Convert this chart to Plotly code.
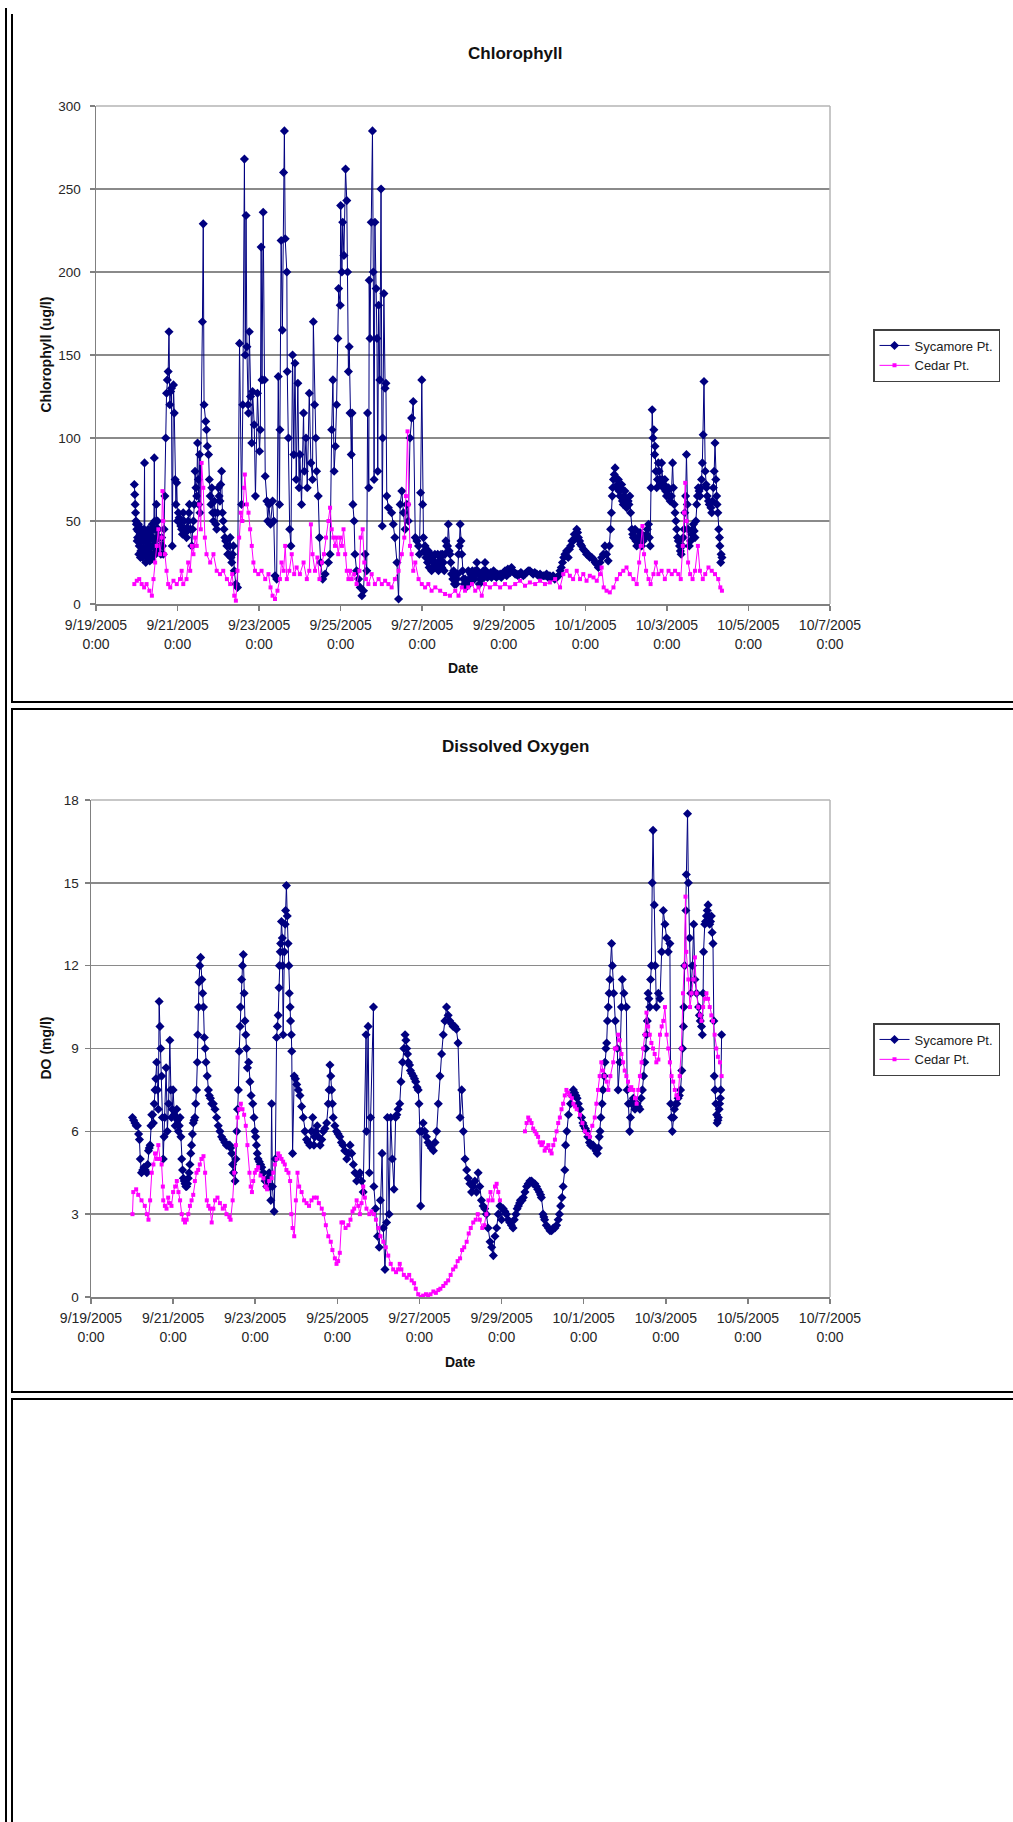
import pandas as pd
import plotly.graph_objects as go

W, H = 1013, 1822
FONT = "Liberation Sans, Arial, sans-serif"

# ---------------- data (day offset from 9/19/2005 0:00, value) ----------------
sycamore_chl = [
    (0.94, 72), (0.95, 66), (0.96, 60), (0.98, 50), (1.00, 45), (1.02, 40), (1.04, 48), (1.06, 35),
    (1.08, 42), (1.10, 32), (1.12, 45), (1.14, 28), (1.16, 38), (1.19, 85), (1.20, 30), (1.22, 25),
    (1.24, 42), (1.26, 28), (1.28, 45), (1.30, 33), (1.32, 26), (1.34, 40), (1.36, 30), (1.38, 48),
    (1.40, 35), (1.43, 88), (1.44, 50), (1.46, 30), (1.48, 60), (1.50, 40), (1.53, 45), (1.57, 35),
    (1.61, 40), (1.65, 30), (1.69, 65), (1.71, 100), (1.73, 127), (1.75, 135), (1.77, 140), (1.79, 164),
    (1.81, 120), (1.83, 128), (1.85, 130), (1.87, 35), (1.90, 132), (1.92, 115), (1.94, 75), (1.98, 73),
    (2.02, 55), (2.06, 50), (2.10, 45), (2.14, 55), (2.18, 45), (2.22, 40), (2.26, 50), (2.29, 60),
    (2.32, 45), (2.35, 35), (2.39, 50), (2.43, 80), (2.47, 65), (2.49, 97), (2.52, 60), (2.55, 55),
    (2.61, 170), (2.63, 229), (2.65, 120), (2.69, 110), (2.71, 105), (2.76, 90), (2.80, 65), (2.84, 70),
    (2.88, 50), (2.92, 55), (2.96, 45), (3.00, 70), (3.04, 62), (3.08, 80), (3.12, 50), (3.16, 40),
    (3.21, 35), (3.25, 30), (3.29, 40), (3.33, 25), (3.37, 35), (3.39, 20), (3.43, 12), (3.47, 10),
    (3.52, 157), (3.57, 60), (3.60, 120), (3.64, 268), (3.66, 150), (3.68, 234), (3.70, 155), (3.73, 120),
    (3.74, 115), (3.76, 164), (3.79, 125), (3.82, 97), (3.84, 128), (3.88, 108), (3.91, 65), (3.96, 127),
    (4.01, 92), (4.03, 105), (4.05, 215), (4.07, 135), (4.10, 236), (4.13, 135), (4.15, 77), (4.19, 62),
    (4.21, 50), (4.24, 60), (4.28, 48), (4.33, 62), (4.36, 50), (4.39, 17), (4.43, 15), (4.47, 137),
    (4.50, 60), (4.51, 105), (4.54, 219), (4.57, 165), (4.60, 260), (4.62, 285), (4.64, 220), (4.68, 200),
    (4.69, 140), (4.72, 100), (4.75, 45), (4.78, 35), (4.82, 150), (4.85, 90), (4.88, 145), (4.91, 75),
    (4.95, 133), (4.98, 70), (5.00, 90), (5.04, 60), (5.09, 115), (5.11, 80), (5.15, 100), (5.18, 70),
    (5.23, 127), (5.27, 85), (5.31, 75), (5.33, 170), (5.36, 120), (5.39, 100), (5.41, 80), (5.45, 65),
    (5.48, 40), (5.51, 25), (5.56, 15), (5.62, 18), (5.70, 25), (5.74, 30), (5.78, 105), (5.81, 135),
    (5.84, 80), (5.87, 95), (5.90, 120), (5.93, 160), (5.95, 190), (5.99, 180), (6.00, 240), (6.03, 200),
    (6.05, 230), (6.08, 210), (6.12, 262), (6.15, 243), (6.17, 200), (6.19, 140), (6.21, 155), (6.23, 115),
    (6.26, 90), (6.28, 115), (6.30, 60), (6.33, 50), (6.35, 30), (6.39, 20), (6.44, 15), (6.48, 10),
    (6.52, 5), (6.56, 8), (6.60, 30), (6.64, 20), (6.66, 115), (6.69, 70), (6.70, 195), (6.72, 160),
    (6.75, 230), (6.78, 285), (6.80, 200), (6.82, 75), (6.84, 230), (6.87, 190), (6.89, 160), (6.91, 80),
    (6.93, 180), (6.96, 135), (6.99, 250), (7.02, 47), (7.03, 100), (7.06, 187), (7.09, 130), (7.11, 133),
    (7.13, 65), (7.17, 58), (7.25, 55), (7.29, 48), (7.33, 40), (7.38, 25), (7.42, 3), (7.46, 60),
    (7.50, 68), (7.54, 55), (7.58, 45), (7.62, 60), (7.66, 50), (7.70, 100), (7.74, 112), (7.78, 122),
    (7.83, 40), (7.91, 35), (7.96, 67), (7.99, 135), (8.01, 60), (8.07, 35), (8.11, 30), (8.19, 28),
    (8.27, 25), (8.31, 30), (8.36, 22), (8.44, 28), (8.52, 25), (8.60, 35), (8.64, 48), (8.68, 30),
    (8.77, 20), (8.85, 15), (8.93, 48), (8.97, 30), (9.01, 15), (9.09, 12), (9.17, 15), (9.26, 18),
    (9.34, 25), (9.42, 15), (9.50, 20), (9.54, 25), (9.58, 18), (9.75, 20), (9.91, 18), (10.07, 17),
    (10.19, 22), (10.32, 18), (10.48, 17), (10.64, 20), (10.81, 18), (10.97, 17), (11.13, 17), (11.30, 16),
    (11.38, 20), (11.44, 25), (11.50, 30), (11.58, 28), (11.64, 35), (11.70, 38), (11.79, 45), (11.83, 40),
    (11.91, 35), (11.99, 32), (12.07, 30), (12.16, 28), (12.24, 25), (12.32, 22), (12.40, 28), (12.48, 35),
    (12.56, 26), (12.62, 45), (12.66, 65), (12.69, 75), (12.73, 82), (12.77, 70), (12.81, 75), (12.85, 65),
    (12.89, 72), (12.93, 60), (12.97, 68), (13.01, 58), (13.05, 62), (13.09, 65), (13.14, 45), (13.18, 40),
    (13.22, 45), (13.26, 35), (13.34, 43), (13.38, 35), (13.46, 40), (13.55, 48), (13.59, 35), (13.64, 117),
    (13.68, 105), (13.71, 95), (13.75, 70), (13.79, 85), (13.83, 75), (13.87, 85), (13.91, 70), (13.95, 75),
    (13.99, 65), (14.04, 70), (14.08, 62), (14.14, 85), (14.18, 60), (14.22, 50), (14.26, 40), (14.31, 35),
    (14.35, 30), (14.40, 40), (14.44, 55), (14.48, 90), (14.52, 45), (14.55, 35), (14.61, 42), (14.65, 48),
    (14.69, 40), (14.73, 60), (14.77, 70), (14.81, 65), (14.85, 75), (14.89, 102), (14.91, 134), (14.94, 80),
    (14.97, 70), (15.02, 62), (15.06, 60), (15.10, 55), (15.14, 70), (15.18, 97), (15.20, 75), (15.23, 60),
    (15.27, 45), (15.30, 35), (15.32, 25), (15.35, 28),
]

# further readings from the dense bands of the Sycamore Pt. chlorophyll trace
sycamore_chl_band = [
    (0.97, 55), (0.99, 48), (1.01, 38), (1.03, 44), (1.05, 30), (1.07, 46), (1.09, 28), (1.11, 38),
    (1.13, 33), (1.15, 42), (1.17, 30), (1.18, 45), (1.21, 40), (1.23, 32), (1.25, 35), (1.27, 38),
    (1.29, 27), (1.31, 42), (1.33, 35), (1.35, 45), (1.37, 27), (1.39, 40), (1.41, 30), (1.42, 45),
    (1.45, 38), (1.47, 45), (1.49, 32), (1.51, 50), (1.55, 40), (1.59, 30), (1.63, 35), (1.67, 45),
    (1.96, 60), (2.00, 50), (2.04, 52), (2.08, 47), (2.12, 42), (2.16, 50), (2.20, 43), (2.24, 46),
    (2.28, 55), (2.37, 45), (2.41, 60), (2.45, 70), (2.51, 75), (2.54, 90),
    (2.73, 95), (2.78, 75), (2.82, 60), (2.86, 55), (2.90, 62), (2.94, 48), (2.98, 55), (3.02, 65),
    (3.06, 72), (3.10, 55), (3.14, 45), (3.18, 38), (3.23, 30), (3.27, 35), (3.31, 28), (3.35, 30),
    (7.87, 38), (7.93, 30), (8.03, 40), (8.05, 32), (8.09, 28), (8.13, 25), (8.15, 32), (8.17, 22),
    (8.21, 30), (8.23, 20), (8.25, 28), (8.29, 22), (8.33, 25), (8.38, 30), (8.40, 20), (8.42, 25),
    (8.46, 30), (8.48, 22), (8.50, 30), (8.54, 20), (8.56, 30), (8.58, 38), (8.62, 35), (8.66, 32),
    (8.70, 25), (8.72, 18), (8.75, 15), (8.79, 12), (8.81, 18), (8.83, 12), (8.87, 18), (8.89, 30),
    (8.91, 35), (8.95, 38), (8.99, 20), (9.03, 12), (9.05, 15), (9.07, 10), (9.11, 14), (9.13, 20),
    (9.15, 12), (9.19, 18), (9.21, 15), (9.23, 20), (9.28, 15), (9.30, 20), (9.32, 18), (9.36, 20),
    (9.38, 18), (9.40, 12), (9.44, 18), (9.46, 15), (9.48, 18), (9.52, 16), (9.56, 20), (9.60, 16),
    (9.62, 18), (9.65, 17), (9.68, 19), (9.70, 16), (9.72, 18), (9.78, 17), (9.82, 16), (9.85, 18),
    (9.88, 17), (9.94, 16), (9.97, 18), (10.00, 19), (10.03, 20), (10.10, 21), (10.13, 20), (10.16, 19),
    (10.22, 20), (10.25, 19), (10.28, 18), (10.35, 17), (10.38, 18), (10.42, 19), (10.45, 18), (10.52, 18),
    (10.56, 19), (10.60, 20), (10.68, 19), (10.72, 18), (10.76, 19), (10.85, 17), (10.89, 18), (10.93, 17),
    (11.01, 17), (11.05, 18), (11.09, 16), (11.17, 16), (11.21, 17), (11.25, 15), (11.34, 17), (11.41, 22),
    (11.47, 28), (11.54, 32), (11.61, 33), (11.67, 38), (11.73, 42), (11.76, 40), (11.81, 43), (11.86, 38),
    (11.88, 36), (11.95, 33), (12.03, 30), (12.11, 28), (12.20, 27), (12.28, 24), (12.36, 25), (12.44, 30),
    (12.52, 30), (12.59, 35),
    (12.64, 55), (12.67, 70), (12.71, 78), (12.75, 76), (12.79, 72), (12.83, 68), (12.87, 70), (12.91, 62),
    (12.95, 65), (12.99, 60), (13.03, 62), (13.07, 60), (13.11, 55), (13.16, 42), (13.20, 44), (13.24, 38),
    (13.29, 40), (13.31, 38), (13.36, 40), (13.42, 38), (13.50, 42), (13.52, 45), (13.57, 40), (13.61, 70),
    (13.66, 100), (13.70, 90), (13.73, 80), (13.77, 75), (13.81, 80), (13.85, 72), (13.89, 75), (13.93, 72),
    (13.97, 68), (14.01, 68), (14.06, 65), (14.11, 65), (14.16, 70), (14.20, 55),
    (14.24, 45), (14.28, 38), (14.33, 32), (14.38, 35), (14.42, 45), (14.46, 65), (14.50, 60), (14.58, 38),
    (14.63, 45), (14.67, 44), (14.71, 50), (14.75, 65), (14.79, 68), (14.83, 70), (14.87, 85), (14.96, 72),
    (14.99, 65), (15.04, 60), (15.08, 58), (15.12, 62), (15.16, 80), (15.22, 65), (15.25, 55), (15.29, 40),
    (15.33, 30),
]

cedar_chl = [
    (0.94, 12), (1.00, 14), (1.06, 15), (1.12, 12), (1.18, 10), (1.24, 12), (1.31, 8), (1.37, 5),
    (1.41, 15), (1.45, 25), (1.49, 35), (1.53, 45), (1.57, 30), (1.61, 40), (1.63, 68), (1.65, 50),
    (1.69, 30), (1.73, 20), (1.77, 12), (1.82, 10), (1.90, 14), (1.98, 12), (2.06, 15), (2.10, 20),
    (2.14, 12), (2.22, 15), (2.26, 25), (2.31, 20), (2.35, 35), (2.39, 30), (2.43, 40), (2.47, 35),
    (2.53, 60), (2.57, 45), (2.59, 85), (2.63, 70), (2.67, 40), (2.71, 30), (2.80, 25), (2.88, 30),
    (2.96, 20), (3.04, 18), (3.12, 20), (3.21, 15), (3.29, 12), (3.34, 18), (3.39, 5), (3.43, 2),
    (3.47, 20), (3.51, 40), (3.55, 55), (3.59, 50), (3.63, 70), (3.65, 78), (3.70, 60), (3.74, 55),
    (3.78, 45), (3.82, 35), (3.86, 25), (3.90, 20), (3.98, 18), (4.06, 20), (4.15, 15), (4.23, 18),
    (4.28, 10), (4.33, 5), (4.39, 3), (4.45, 8), (4.51, 15), (4.55, 25), (4.60, 20), (4.64, 35),
    (4.68, 15), (4.74, 20), (4.80, 30), (4.86, 18), (4.92, 22), (5.00, 18), (5.09, 25), (5.17, 15),
    (5.23, 20), (5.27, 48), (5.31, 30), (5.37, 20), (5.43, 28), (5.48, 15), (5.54, 25), (5.59, 30),
    (5.64, 40), (5.70, 50), (5.74, 58), (5.78, 45), (5.82, 40), (5.86, 35), (5.90, 40), (5.94, 30),
    (5.99, 40), (6.03, 35), (6.07, 45), (6.11, 30), (6.15, 20), (6.19, 15), (6.23, 20), (6.27, 15),
    (6.33, 18), (6.39, 12), (6.46, 20), (6.49, 40), (6.54, 45), (6.58, 25), (6.62, 15), (6.68, 12),
    (6.76, 18), (6.84, 12), (6.93, 15), (7.01, 12), (7.09, 14), (7.17, 12), (7.25, 10), (7.33, 15),
    (7.42, 20), (7.50, 30), (7.56, 40), (7.60, 65), (7.64, 104), (7.67, 60), (7.70, 35), (7.74, 30),
    (7.78, 20), (7.83, 25), (7.91, 15), (7.99, 12), (8.07, 10), (8.15, 12), (8.23, 8), (8.32, 10),
    (8.44, 8), (8.56, 6), (8.68, 5), (8.81, 8), (8.89, 5), (8.97, 10), (9.05, 8), (9.13, 10),
    (9.22, 12), (9.30, 8), (9.38, 10), (9.46, 5), (9.54, 12), (9.66, 10), (9.79, 12), (9.91, 10),
    (10.03, 12), (10.15, 10), (10.28, 12), (10.40, 14), (10.52, 11), (10.64, 13), (10.77, 12), (10.89, 14),
    (11.01, 12), (11.13, 13), (11.26, 15), (11.38, 10), (11.46, 18), (11.54, 20), (11.62, 17), (11.70, 15),
    (11.79, 20), (11.87, 15), (11.95, 18), (12.03, 14), (12.11, 17), (12.20, 16), (12.28, 14), (12.36, 18),
    (12.40, 22), (12.45, 10), (12.52, 8), (12.60, 7), (12.69, 10), (12.77, 15), (12.85, 18), (12.93, 20),
    (13.01, 22), (13.09, 18), (13.18, 15), (13.26, 12), (13.32, 25), (13.36, 35), (13.40, 47), (13.44, 30),
    (13.49, 20), (13.55, 15), (13.60, 12), (13.67, 18), (13.73, 25), (13.79, 18), (13.87, 20), (13.95, 15),
    (14.04, 20), (14.12, 18), (14.20, 20), (14.28, 18), (14.34, 15), (14.39, 35), (14.42, 55), (14.45, 73),
    (14.48, 50), (14.52, 25), (14.57, 18), (14.63, 15), (14.69, 20), (14.76, 35), (14.81, 20), (14.88, 15),
    (14.94, 18), (15.02, 22), (15.10, 20), (15.18, 18), (15.26, 15), (15.31, 10), (15.35, 8),
]

sycamore_do = [
    (1.01, 6.5), (1.07, 6.3), (1.13, 6.2), (1.18, 5.7), (1.23, 4.5), (1.29, 4.7), (1.36, 4.5), (1.40, 5.3),
    (1.44, 5.5), (1.48, 6.6), (1.52, 6.3), (1.56, 7.5), (1.60, 8.5), (1.64, 6.8), (1.66, 10.7), (1.68, 9.8),
    (1.70, 9.0), (1.74, 6.5), (1.76, 5.0), (1.80, 6.5), (1.83, 8.3), (1.86, 6.0), (1.89, 7.0), (1.92, 9.3),
    (1.96, 6.5), (2.00, 7.5), (2.05, 6.2), (2.09, 6.8), (2.13, 6.0), (2.17, 6.5), (2.21, 5.0), (2.25, 4.3),
    (2.29, 4.1), (2.33, 4.0), (2.37, 4.3), (2.41, 4.8), (2.45, 5.5), (2.49, 6.3), (2.53, 6.5), (2.57, 7.5),
    (2.60, 9.5), (2.63, 11.4), (2.67, 12.3), (2.70, 11.5), (2.74, 10.5), (2.76, 9.4), (2.80, 8.5), (2.86, 7.5),
    (2.91, 7.2), (2.98, 7.0), (3.06, 6.5), (3.14, 6.0), (3.22, 5.7), (3.30, 5.5), (3.38, 5.5), (3.43, 5.2),
    (3.47, 4.5), (3.51, 4.2), (3.55, 6.0), (3.59, 7.5), (3.61, 8.9), (3.64, 10.5), (3.69, 12.0), (3.71, 12.4),
    (3.73, 11.0), (3.77, 9.5), (3.81, 8.3), (3.84, 8.5), (3.87, 7.8), (3.94, 7.0), (3.99, 6.0), (4.03, 5.5),
    (4.07, 5.0), (4.13, 4.8), (4.20, 4.5), (4.28, 4.0), (4.34, 4.5), (4.38, 3.5), (4.40, 7.0), (4.42, 4.0),
    (4.46, 3.1), (4.49, 5.0), (4.52, 9.4), (4.56, 10.2), (4.59, 12.0), (4.62, 12.8), (4.64, 13.6), (4.67, 12.0),
    (4.68, 9.5), (4.71, 12.5), (4.74, 14.0), (4.76, 14.9), (4.80, 12.8), (4.83, 11.0), (4.86, 10.0), (4.89, 8.9),
    (4.91, 5.2), (4.95, 8.0), (5.01, 7.7), (5.09, 7.3), (5.17, 6.5), (5.25, 5.7), (5.33, 5.5), (5.40, 6.5),
    (5.45, 5.8), (5.51, 6.2), (5.58, 5.5), (5.66, 6.0), (5.74, 6.3), (5.78, 7.0), (5.82, 8.4), (5.86, 7.5),
    (5.90, 6.5), (5.98, 6.0), (6.06, 5.8), (6.14, 5.5), (6.23, 5.0), (6.31, 5.5), (6.39, 4.8), (6.47, 4.2),
    (6.55, 4.5), (6.63, 3.8), (6.70, 9.5), (6.71, 6.0), (6.75, 9.8), (6.78, 4.5), (6.81, 6.5), (6.88, 10.5),
    (6.89, 4.0), (6.93, 3.2), (6.98, 2.2), (7.02, 1.8), (7.05, 3.5), (7.09, 5.2), (7.12, 2.5), (7.16, 1.0),
    (7.20, 2.7), (7.22, 6.5), (7.26, 3.0), (7.30, 6.5), (7.34, 5.0), (7.38, 3.9), (7.42, 6.5), (7.48, 6.8),
    (7.52, 7.0), (7.59, 8.5), (7.65, 9.5), (7.69, 9.0), (7.73, 8.5), (7.78, 8.2), (7.85, 8.0), (7.91, 7.8),
    (7.97, 7.5), (8.01, 6.0), (8.03, 3.3), (8.06, 6.0), (8.09, 6.3), (8.17, 5.8), (8.25, 5.5), (8.34, 5.3),
    (8.42, 6.0), (8.50, 8.0), (8.58, 9.5), (8.66, 10.5), (8.74, 10.0), (8.82, 9.8), (8.90, 9.7), (8.94, 9.2),
    (8.99, 6.5), (9.03, 7.5), (9.07, 6.0), (9.11, 5.0), (9.19, 4.3), (9.31, 4.0), (9.43, 4.5), (9.51, 3.5),
    (9.63, 3.0), (9.72, 2.0), (9.80, 1.5), (9.88, 2.5), (9.96, 3.3), (10.00, 2.8), (10.04, 3.2), (10.12, 3.0),
    (10.20, 2.7), (10.28, 2.5), (10.35, 3.0), (10.41, 3.3), (10.46, 3.5), (10.53, 3.6), (10.61, 4.0), (10.69, 4.2),
    (10.77, 4.1), (10.85, 4.0), (10.92, 3.8), (10.97, 3.6), (11.01, 3.0), (11.05, 2.8), (11.14, 2.5), (11.22, 2.4),
    (11.30, 2.5), (11.38, 2.8), (11.44, 3.3), (11.50, 4.0), (11.54, 4.6), (11.56, 5.5), (11.59, 6.0), (11.63, 6.6),
    (11.68, 7.0), (11.75, 7.5), (11.81, 7.3), (11.87, 7.0), (11.95, 6.5), (12.00, 6.2), (12.07, 6.0), (12.14, 5.6),
    (12.19, 5.5), (12.27, 5.4), (12.33, 5.2), (12.38, 5.8), (12.42, 6.5), (12.47, 7.5), (12.52, 8.5), (12.56, 9.2),
    (12.60, 10.5), (12.64, 11.5), (12.68, 12.8), (12.70, 12.0), (12.73, 11.0), (12.77, 10.0), (12.82, 9.0), (12.84, 7.5),
    (12.88, 8.5), (12.92, 10.5), (12.94, 11.5), (12.98, 11.0), (13.04, 10.5), (13.06, 7.5), (13.09, 7.0), (13.12, 6.0),
    (13.17, 7.0), (13.21, 7.2), (13.25, 6.8), (13.30, 7.0), (13.37, 6.8), (13.43, 7.5), (13.49, 8.5), (13.53, 9.5),
    (13.57, 11.0), (13.61, 10.5), (13.65, 12.0), (13.67, 15.0), (13.69, 16.9), (13.72, 14.2), (13.74, 12.0), (13.77, 10.5),
    (13.82, 11.0), (13.86, 10.8), (13.90, 12.5), (13.94, 14.0), (13.98, 13.5), (14.02, 13.0), (14.06, 12.5), (14.10, 12.8),
    (14.12, 7.0), (14.16, 6.0), (14.19, 6.5), (14.24, 7.0), (14.30, 7.2), (14.36, 7.5), (14.41, 9.0), (14.44, 10.5),
    (14.46, 12.0), (14.49, 14.0), (14.50, 15.3), (14.53, 17.5), (14.55, 15.0), (14.58, 13.0), (14.61, 11.0), (14.65, 12.0),
    (14.68, 13.5), (14.71, 11.5), (14.75, 11.0), (14.80, 10.5), (14.84, 10.0), (14.89, 9.5), (14.92, 12.5), (14.95, 13.5),
    (14.99, 13.8), (15.03, 14.2), (15.07, 13.5), (15.11, 13.8), (15.15, 12.8), (15.18, 8.0), (15.22, 7.0), (15.25, 6.3),
    (15.28, 6.5), (15.31, 7.0), (15.34, 7.5), (15.36, 9.5),
]

# further readings along the continuous Sycamore Pt. DO trail
sycamore_do_trail = [
    (1.04, 6.4), (1.10, 6.2), (1.16, 5.9), (1.20, 5.0), (1.26, 4.6), (1.32, 4.6), (1.38, 4.8), (1.42, 5.4),
    (1.46, 6.2), (1.50, 6.6), (1.54, 7.0), (1.58, 7.9), (1.62, 7.5), (1.72, 8.0), (1.78, 5.8), (1.94, 7.5),
    (1.98, 6.8), (2.03, 6.6), (2.07, 6.5), (2.11, 6.4), (2.15, 6.2), (2.19, 5.8), (2.23, 4.6), (2.27, 4.2),
    (2.31, 4.0), (2.35, 4.1), (2.39, 4.5), (2.43, 5.2), (2.47, 5.9), (2.51, 6.4), (2.55, 7.0), (2.59, 8.5),
    (2.62, 10.5), (2.65, 12.0), (2.72, 11.0), (2.78, 9.0),
    (2.83, 8.0), (2.88, 7.3), (2.94, 7.0), (3.02, 6.8), (3.10, 6.2), (3.18, 5.8), (3.26, 5.6), (3.34, 5.5),
    (3.40, 5.4), (3.45, 4.8), (3.53, 5.0), (3.57, 6.8), (3.63, 9.8), (3.67, 11.5), (3.75, 10.0), (3.79, 9.0),
    (3.90, 7.3), (3.97, 6.5), (4.01, 5.8), (4.05, 5.2), (4.10, 4.9), (4.16, 4.7), (4.24, 4.2), (4.31, 4.3),
    (4.36, 4.0), (4.54, 9.8), (4.58, 11.2), (4.61, 12.5), (4.66, 13.0), (4.73, 13.5), (4.78, 13.8), (4.82, 12.0),
    (4.85, 10.5), (4.88, 9.5),
    (4.98, 7.9), (5.05, 7.5), (5.13, 6.9), (5.21, 6.0), (5.29, 5.6), (5.37, 6.0), (5.43, 5.5), (5.48, 6.0),
    (5.54, 5.8), (5.62, 5.7), (5.70, 6.1), (5.80, 7.5), (5.84, 8.0), (5.88, 7.0), (5.94, 6.2), (6.02, 5.9),
    (6.10, 5.6), (6.18, 5.3), (6.27, 5.2), (6.35, 5.2), (6.43, 4.5), (6.51, 4.4), (6.59, 4.2),
    (7.45, 6.6), (7.55, 7.8), (7.62, 9.0), (7.67, 9.3), (7.71, 8.8), (7.76, 8.4), (7.81, 8.1), (7.88, 7.9),
    (7.94, 7.6), (7.99, 7.0), (8.13, 6.0), (8.21, 5.6), (8.29, 5.4), (8.38, 5.6), (8.46, 7.0), (8.54, 8.8),
    (8.62, 10.0), (8.70, 10.2), (8.78, 9.9), (8.86, 9.8),
    (9.15, 4.6), (9.23, 4.1), (9.27, 3.8), (9.35, 4.2), (9.39, 3.8), (9.47, 4.0), (9.55, 3.3), (9.59, 3.2),
    (9.67, 2.5), (9.76, 1.8), (9.84, 2.2), (9.92, 3.0),
    (10.08, 3.1), (10.16, 2.8), (10.24, 2.6), (10.31, 2.8), (10.38, 3.2), (10.44, 3.4), (10.50, 3.5), (10.57, 3.8),
    (10.65, 4.1), (10.73, 4.2), (10.81, 4.1), (10.88, 3.9), (10.95, 3.7), (11.03, 2.9), (11.09, 2.6), (11.18, 2.4),
    (11.26, 2.5), (11.34, 2.6), (11.41, 3.0), (11.47, 3.6),
    (11.71, 7.3), (11.78, 7.4), (11.84, 7.2), (11.91, 6.8), (11.98, 6.3), (12.04, 6.1), (12.10, 5.8), (12.17, 5.5),
    (12.23, 5.5), (12.30, 5.3), (12.36, 5.4), (12.40, 6.0), (12.45, 7.0), (12.50, 8.0), (12.54, 9.0), (12.58, 10.0),
    (12.62, 11.0),
    (13.14, 6.5), (13.19, 7.1), (13.23, 7.0), (13.28, 6.9), (13.33, 6.9), (13.40, 7.2), (13.46, 8.0), (13.51, 9.0),
    (13.55, 10.0), (13.59, 10.8), (13.63, 11.5),
    (14.14, 6.5), (14.21, 6.8), (14.27, 7.0), (14.33, 7.3), (14.39, 8.2), (14.43, 9.8),
    (14.82, 10.2), (14.87, 9.8), (14.91, 11.0), (14.97, 13.6), (15.01, 14.0), (15.05, 13.8), (15.09, 13.6), (15.13, 13.2),
    (15.17, 10.0), (15.20, 7.5), (15.24, 6.6), (15.27, 6.4), (15.30, 6.8), (15.33, 7.2),
]

cedar_do = [
    (1.01, 3.0), (1.03, 3.8), (1.10, 3.9), (1.15, 3.7), (1.23, 3.5), (1.31, 3.3), (1.36, 3.0), (1.40, 2.8),
    (1.44, 3.5), (1.48, 4.5), (1.52, 4.8), (1.56, 5.2), (1.60, 5.0), (1.64, 5.5), (1.68, 5.0), (1.72, 4.8),
    (1.75, 4.0), (1.76, 3.5), (1.80, 3.3), (1.84, 3.2), (1.88, 3.6), (1.92, 3.4), (1.96, 3.3), (2.00, 3.8),
    (2.05, 4.0), (2.09, 4.2), (2.13, 3.8), (2.17, 3.5), (2.21, 3.0), (2.25, 2.8), (2.29, 2.7), (2.33, 2.8),
    (2.37, 3.0), (2.41, 3.3), (2.45, 3.5), (2.49, 3.7), (2.53, 4.2), (2.57, 4.5), (2.61, 4.6), (2.65, 4.8),
    (2.69, 5.0), (2.74, 5.1), (2.78, 4.5), (2.82, 3.5), (2.86, 3.3), (2.90, 3.2), (2.94, 2.7), (2.98, 3.2),
    (3.02, 3.5), (3.08, 3.6), (3.14, 3.4), (3.21, 3.2), (3.26, 3.3), (3.30, 3.0), (3.37, 2.9), (3.40, 2.8),
    (3.45, 3.5), (3.49, 4.5), (3.53, 5.5), (3.57, 6.5), (3.61, 6.8), (3.65, 7.0), (3.69, 6.8), (3.73, 6.6),
    (3.77, 6.2), (3.81, 5.5), (3.86, 4.5), (3.89, 4.0), (3.92, 3.8), (3.95, 4.2), (3.99, 4.5), (4.03, 4.6),
    (4.07, 4.7), (4.13, 4.4), (4.20, 4.3), (4.25, 4.0), (4.29, 3.9), (4.34, 4.2), (4.40, 4.3), (4.44, 4.5),
    (4.48, 4.8), (4.52, 5.0), (4.56, 5.2), (4.60, 5.1), (4.64, 5.0), (4.68, 4.9), (4.72, 4.8), (4.76, 4.6),
    (4.81, 4.5), (4.85, 4.2), (4.88, 3.0), (4.91, 2.5), (4.95, 2.2), (4.99, 3.5), (5.03, 4.5), (5.07, 4.0),
    (5.13, 3.8), (5.19, 3.5), (5.25, 3.4), (5.31, 3.3), (5.37, 3.5), (5.43, 3.6), (5.50, 3.6), (5.55, 3.4),
    (5.62, 3.2), (5.67, 3.0), (5.72, 2.6), (5.78, 2.2), (5.84, 2.0), (5.88, 1.7), (5.94, 1.4), (5.98, 1.2),
    (6.02, 1.3), (6.06, 1.6), (6.10, 2.7), (6.14, 2.7), (6.20, 2.5), (6.27, 2.6), (6.32, 2.8), (6.37, 3.1),
    (6.41, 3.2), (6.47, 3.5), (6.51, 3.3), (6.55, 3.0), (6.59, 3.4), (6.63, 4.0), (6.67, 3.6), (6.71, 3.2),
    (6.78, 3.0), (6.83, 3.1), (6.89, 3.0), (6.94, 2.8), (7.00, 2.5), (7.05, 2.2), (7.12, 2.0), (7.18, 1.8),
    (7.24, 1.5), (7.30, 1.2), (7.36, 1.0), (7.43, 0.9), (7.48, 1.0), (7.52, 1.2), (7.56, 1.0), (7.62, 0.8),
    (7.69, 0.7), (7.75, 0.8), (7.81, 0.6), (7.87, 0.5), (7.91, 0.3), (7.97, 0.1), (8.03, 0.0), (8.09, 0.05),
    (8.16, 0.1), (8.21, 0.05), (8.27, 0.1), (8.34, 0.2), (8.40, 0.15), (8.46, 0.25), (8.51, 0.3), (8.58, 0.4),
    (8.64, 0.5), (8.70, 0.6), (8.76, 0.8), (8.82, 1.0), (8.88, 1.1), (8.93, 1.3), (8.99, 1.4), (9.04, 1.7),
    (9.09, 1.8), (9.15, 2.0), (9.20, 2.3), (9.25, 2.5), (9.31, 2.7), (9.37, 2.8), (9.42, 3.0), (9.47, 2.8),
    (9.53, 2.5), (9.58, 2.6), (9.63, 3.0), (9.68, 3.5), (9.73, 3.8), (9.78, 3.5), (9.84, 4.0), (9.88, 4.1),
    (9.92, 3.8), (9.96, 3.5), (10.25, None),
    (10.57, 6.0), (10.61, 6.3), (10.65, 6.5), (10.69, 6.4), (10.73, 6.3), (10.77, 6.1), (10.81, 6.0), (10.85, 5.9),
    (10.89, 5.8), (10.93, 5.6), (10.97, 5.5), (11.01, 5.6), (11.05, 5.3), (11.09, 5.4), (11.14, 5.5), (11.18, 5.3),
    (11.22, 5.2), (11.26, 5.5), (11.30, 5.7), (11.34, 6.0), (11.38, 6.3), (11.42, 6.5), (11.46, 6.8), (11.50, 7.0),
    (11.54, 7.3), (11.58, 7.5), (11.62, 7.4), (11.66, 7.3), (11.71, 7.2), (11.75, 7.0), (11.79, 6.9), (11.83, 6.8),
    (11.91, 6.6), (11.97, 6.3), (12.03, 6.0), (12.09, 5.9), (12.15, 5.8), (12.21, 6.2), (12.27, 6.5), (12.31, 7.0),
    (12.35, 7.5), (12.39, 8.0), (12.43, 8.5), (12.47, 8.2), (12.51, 8.0), (12.56, 7.8), (12.60, 7.5), (12.65, 8.0),
    (12.72, 8.5), (12.76, 9.0), (12.80, 9.0), (12.84, 9.5), (12.88, 9.3), (12.92, 8.8), (12.96, 8.5), (13.00, 8.2),
    (13.04, 8.0), (13.08, 7.8), (13.12, 7.5), (13.16, 7.6), (13.21, 7.5), (13.25, 7.2), (13.29, 7.0), (13.33, 7.5),
    (13.37, 8.0), (13.41, 8.5), (13.45, 9.0), (13.49, 9.5), (13.53, 10.3), (13.57, 9.8), (13.61, 9.5), (13.65, 9.2),
    (13.69, 9.0), (13.73, 8.8), (13.77, 8.5), (13.82, 8.6), (13.86, 9.5), (13.90, 9.8), (13.94, 10.0), (13.98, 10.5),
    (14.02, 9.5), (14.06, 9.0), (14.10, 8.5), (14.14, 8.0), (14.18, 7.8), (14.22, 7.5), (14.26, 7.3), (14.30, 7.2),
    (14.34, 8.0), (14.38, 9.0), (14.42, 11.0), (14.45, 12.0), (14.48, 14.5), (14.50, 12.5), (14.55, 11.5), (14.59, 10.5),
    (14.63, 11.0), (14.67, 11.5), (14.71, 12.3), (14.75, 11.0), (14.79, 10.5), (14.83, 10.2), (14.87, 10.0), (14.91, 10.5),
    (14.95, 10.8), (14.99, 11.0), (15.03, 10.8), (15.07, 10.5), (15.11, 10.2), (15.15, 10.0), (15.19, 9.5), (15.23, 9.0),
    (15.27, 8.7), (15.32, 8.5), (15.36, 8.0),
]

tick_dates = ["2005-09-19", "2005-09-21", "2005-09-23", "2005-09-25", "2005-09-27",
              "2005-09-29", "2005-10-01", "2005-10-03", "2005-10-05", "2005-10-07"]
tick_text = ["9/19/2005<br>0:00", "9/21/2005<br>0:00", "9/23/2005<br>0:00", "9/25/2005<br>0:00",
             "9/27/2005<br>0:00", "9/29/2005<br>0:00", "10/1/2005<br>0:00", "10/3/2005<br>0:00",
             "10/5/2005<br>0:00", "10/7/2005<br>0:00"]
chl_ticks = [0, 50, 100, 150, 200, 250, 300]
do_ticks = [0, 3, 6, 9, 12, 15, 18]

BASE = pd.Timestamp("2005-09-19")


def to_xy(pairs):
    pairs = sorted(pairs, key=lambda p: p[0])
    days = [p[0] for p in pairs]
    vals = [p[1] for p in pairs]
    xs = [BASE + pd.Timedelta(days=d) for d in days]
    return xs, vals


def px(x):
    return x / W


def py(y):
    return 1 - y / H


NAVY = "#000080"
MAGENTA = "#FF00FF"

fig = go.Figure()

for pairs, name, color, sym, size, xa, ya, leg in [
    (sycamore_chl + sycamore_chl_band, "Sycamore Pt.", NAVY, "diamond", 7, "x", "y", "legend"),
    (cedar_chl, "Cedar Pt.", MAGENTA, "square", 4, "x", "y", "legend"),
    (sycamore_do + sycamore_do_trail, "Sycamore Pt.", NAVY, "diamond", 7, "x2", "y2", "legend2"),
    (cedar_do, "Cedar Pt.", MAGENTA, "square", 4, "x2", "y2", "legend2"),
]:
    xs, ys = to_xy(pairs)
    fig.add_trace(go.Scatter(
        x=xs, y=ys, name=name, mode="lines+markers",
        line=dict(color=color, width=1),
        marker=dict(symbol=sym, size=size, color=color, line=dict(width=0)),
        xaxis=xa, yaxis=ya, legend=leg, connectgaps=False, hoverinfo="skip",
    ))

GRID = "#8a8a8a"
AXIS = "#808080"
TICKFONT = dict(family=FONT, size=13.5, color="#262626")

xcommon = dict(
    type="date", range=["2005-09-19", "2005-10-07"],
    tickmode="array", tickvals=tick_dates, ticktext=tick_text, tickangle=0,
    showgrid=False, zeroline=False, showline=True, linecolor=AXIS, linewidth=1.5,
    ticks="outside", ticklen=5, tickwidth=1.5, tickcolor=AXIS, automargin=False,
    tickfont=dict(family=FONT, size=14, color="#262626"), ticklabelstandoff=3,
)
ycommon = dict(
    showgrid=True, gridcolor=GRID, gridwidth=1.6, zeroline=False,
    showline=True, linecolor=AXIS, linewidth=1.5, automargin=False,
    ticks="outside", ticklen=5, tickwidth=1.5, tickcolor=AXIS,
    tickfont=TICKFONT, tickmode="array",
)

LEGFONT = dict(family=FONT, size=13, color="#222")

fig.update_layout(
    width=W, height=H,
    margin=dict(l=0, r=0, t=0, b=0, pad=0, autoexpand=False),
    paper_bgcolor="white", plot_bgcolor="white",
    font=dict(family=FONT, color="#111"),
    xaxis=dict(domain=[px(96), px(830)], anchor="y", **xcommon),
    yaxis=dict(domain=[py(604), py(106)], anchor="x", range=[0, 300],
               tickvals=chl_ticks, ticklabelstandoff=6, **ycommon),
    xaxis2=dict(domain=[px(91), px(830)], anchor="y2", **xcommon),
    yaxis2=dict(domain=[py(1297), py(800)], anchor="x2", range=[0, 18],
                tickvals=do_ticks, ticklabelstandoff=3, **ycommon),
    legend=dict(x=px(873), y=py(329), xanchor="left", yanchor="top",
                bordercolor="#404040", borderwidth=1.5, bgcolor="white",
                font=LEGFONT, itemwidth=30),
    legend2=dict(x=px(873), y=py(1023), xanchor="left", yanchor="top",
                 bordercolor="#404040", borderwidth=1.5, bgcolor="white",
                 font=LEGFONT, itemwidth=30),
    showlegend=True,
)

# light plot-area border on top and right
shapes = []
for xr, yr in [("x domain", "y domain"), ("x2 domain", "y2 domain")]:
    shapes.append(dict(type="line", xref=xr, yref=yr, x0=0, x1=1, y0=1, y1=1,
                       line=dict(color="#b4b4b4", width=1.5), layer="above"))
    shapes.append(dict(type="line", xref=xr, yref=yr, x0=1, x1=1, y0=0, y1=1,
                       line=dict(color="#b4b4b4", width=1.5), layer="above"))

# page table borders (black bars), in pixels
border_rects = [
    (5, 7, 8, H), (11, 13, 14, 703), (11, W, 701, 703), (11, W, 708, 710),
    (11, 13, 708, 1393), (11, W, 1391, 1393), (11, W, 1398, 1400), (11, 13, 1398, H),
]
for x0, x1, y0, y1 in border_rects:
    shapes.append(dict(type="rect", xref="paper", yref="paper",
                       x0=px(x0), x1=px(x1), y0=py(y1), y1=py(y0),
                       fillcolor="black", line=dict(width=0), layer="above"))
fig.update_layout(shapes=shapes)

annotations = [
    dict(text="<b>Chlorophyll</b>", x=px(515), y=py(53), size=17),
    dict(text="<b>Chlorophyll (ug/l)</b>", x=px(45.5), y=py(355), size=14, angle=-90),
    dict(text="<b>Date</b>", x=px(463), y=py(668), size=14),
    dict(text="<b>Dissolved Oxygen</b>", x=px(515), y=py(746), size=17),
    dict(text="<b>DO (mg/l)</b>", x=px(45), y=py(1048.5), size=14, angle=-90),
    dict(text="<b>Date</b>", x=px(460.5), y=py(1362), size=14),
]
fig.update_layout(annotations=[
    dict(text=a["text"], x=a["x"], y=a["y"], xref="paper", yref="paper",
         xanchor="center", yanchor="middle", showarrow=False,
         textangle=a.get("angle", 0),
         font=dict(family=FONT, size=a["size"], color="#111"))
    for a in annotations
])

fig.write_html(
    "out.html",
    config={"displayModeBar": False, "staticPlot": True},
    post_script="document.body.style.margin='0';document.body.style.overflow='hidden';",
)
